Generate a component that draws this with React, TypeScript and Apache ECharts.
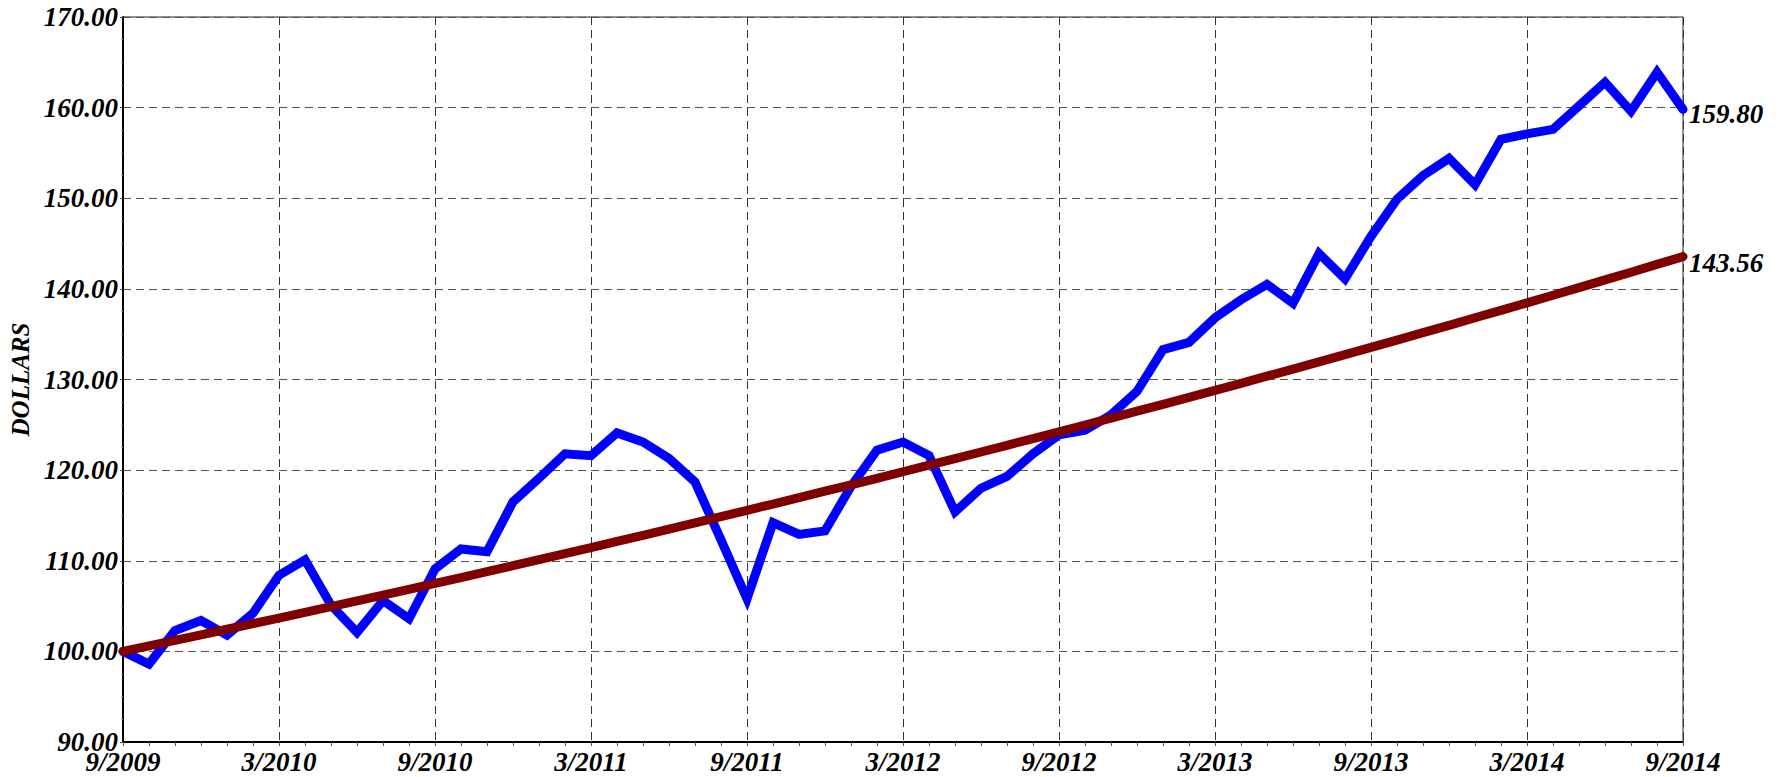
import React, { useEffect, useRef } from "react";
import * as echarts from "echarts";

// Monthly points from 9/2009 to 9/2014
const startYear = 2009;
const startMonth = 9;
const monthCount = 61;
const categories: string[] = [];
for (let i = 0; i < monthCount; i++) {
  const m = ((startMonth - 1 + i) % 12) + 1;
  const y = startYear + Math.floor((startMonth - 1 + i) / 12);
  categories.push(`${m}/${y}`);
}

const portfolioValues = [
  100.0, 98.6, 102.3, 103.4, 101.8, 104.2, 108.4, 110.1, 105.1, 102.1,
  105.6, 103.6, 109.1, 111.3, 111.0, 116.5, 119.1, 121.8, 121.6, 124.1,
  123.1, 121.3, 118.7, 112.3, 105.8, 114.2, 112.9, 113.3, 118.2, 122.2,
  123.1, 121.6, 115.4, 118.0, 119.3, 121.8, 123.9, 124.4, 126.1, 128.7,
  133.3, 134.1, 136.8, 138.8, 140.5, 138.4, 143.9, 141.1, 145.8, 149.9,
  152.5, 154.4, 151.5, 156.5, 157.1, 157.6, 160.2, 162.8, 159.6, 163.9,
  159.8,
];

const benchmarkValues = [
  100.0, 100.6, 101.21, 101.83, 102.44, 103.06, 103.68, 104.31, 104.94, 105.57,
  106.21, 106.85, 107.5, 108.15, 108.8, 109.46, 110.12, 110.79, 111.46, 112.13,
  112.81, 113.49, 114.18, 114.87, 115.56, 116.26, 116.96, 117.67, 118.38, 119.1,
  119.82, 120.54, 121.27, 122.0, 122.74, 123.48, 124.23, 124.98, 125.74, 126.5,
  127.26, 128.03, 128.8, 129.58, 130.37, 131.15, 131.95, 132.75, 133.55, 134.35,
  135.17, 135.98, 136.81, 137.63, 138.46, 139.3, 140.14, 140.99, 141.84, 142.7,
  143.56,
];

const yMin = 90;
const yMax = 170;
const yStep = 10;

const FONT = "Liberation Serif";

export default function App() {
  const ref = useRef<HTMLDivElement>(null);

  useEffect(() => {
    document.body.style.margin = "0";
    if (!ref.current) return;
    const chart = echarts.init(ref.current, undefined, { renderer: "svg" });
    const textBase = {
      fontFamily: FONT,
      fontWeight: "bold" as const,
      fontStyle: "italic" as const,
      color: "#000",
    };
    chart.setOption({
      animation: false,
      backgroundColor: "#fff",
      grid: {
        left: 123,
        right: 103,
        top: 17,
        bottom: 35,
        containLabel: false,
        outerBoundsMode: "none",
        show: true,
        borderColor: "#222",
        borderWidth: 1,
        backgroundColor: "transparent",
      },
      xAxis: {
        type: "category",
        data: categories,
        boundaryGap: false,
        axisLine: { show: true, lineStyle: { color: "#000", width: 2 } },
        axisTick: {
          show: true,
          interval: 0,
          length: 4,
          lineStyle: { color: "#555", width: 1 },
        },
        axisLabel: {
          ...textBase,
          fontSize: 27,
          interval: 5,
          margin: 6,
        },
        splitLine: {
          show: true,
          interval: 5,
          lineStyle: { color: "#333", width: 1, type: [8, 5] },
        },
      },
      yAxis: {
        type: "value",
        min: yMin,
        max: yMax,
        interval: yStep,
        name: "DOLLARS",
        nameLocation: "middle",
        nameGap: 88,
        nameRotate: 90,
        nameTextStyle: { ...textBase, fontSize: 25 },
        axisLine: { show: true, lineStyle: { color: "#000", width: 2 } },
        axisTick: { show: true, length: 3, lineStyle: { color: "#555" } },
        minorTick: {
          show: true,
          splitNumber: 4,
          length: 2,
          lineStyle: { color: "#999" },
        },
        axisLabel: {
          ...textBase,
          fontSize: 27,
          margin: 5,
          formatter: (v: number) => v.toFixed(2),
        },
        splitLine: {
          show: true,
          lineStyle: { color: "#555", width: 1, type: [8, 5] },
        },
      },
      series: [
        {
          name: "Portfolio",
          type: "line",
          data: portfolioValues,
          symbol: "none",
          lineStyle: { color: "#0000ff", width: 9, cap: "round", join: "miter" },
          itemStyle: { color: "#0000ff" },
          endLabel: {
            show: true,
            ...textBase,
            fontSize: 27,
            distance: 6,
            offset: [0, 5],
            formatter: (p: any) => Number(p.value).toFixed(2),
          },
          z: 2,
        },
        {
          name: "Benchmark",
          type: "line",
          data: benchmarkValues,
          symbol: "none",
          lineStyle: { color: "#800000", width: 9, cap: "round", join: "round" },
          itemStyle: { color: "#800000" },
          endLabel: {
            show: true,
            ...textBase,
            fontSize: 27,
            distance: 6,
            offset: [0, 6],
            formatter: (p: any) => Number(p.value).toFixed(2),
          },
          z: 3,
        },
      ],
    });
    return () => chart.dispose();
  }, []);

  return <div ref={ref} style={{ width: 1786, height: 777 }} />;
}
